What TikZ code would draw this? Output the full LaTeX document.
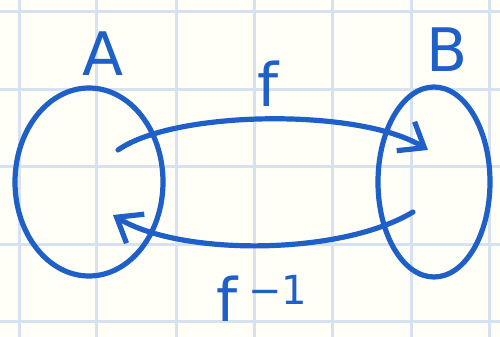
\documentclass[tikz,border=0pt]{standalone}
\usepackage{fontspec}
\setmainfont{DejaVu Sans}
\usetikzlibrary{arrows.meta}
\definecolor{ink}{RGB}{30,95,200}
\definecolor{gridc}{RGB}{214,225,242}
\tikzset{
  pen/.style={draw=ink, line width=2.6pt, line cap=round},
  conn/.style={pen, -{Straight Barb[length=11pt,width=17pt,line width=2.6pt]}},
  setlabel/.style={text=ink, font=\fontsize{30}{32}\selectfont, inner sep=0pt},
  gridline/.style={draw=gridc, line width=1.5pt}
}
\begin{document}
\begin{tikzpicture}[x=0.5pt,y=-0.5pt]
\useasboundingbox (0,0) rectangle (500,337);
\fill[white!97!yellow] (0,0) rectangle (500,337);
% grid
\foreach \gx in {20,97,177,255,333,412,490} \draw[gridline] (\gx,0) -- (\gx,337);
\foreach \gy in {12,90,167,245,322} \draw[gridline] (0,\gy) -- (500,\gy);
% sets
\draw[pen] (89,182) ellipse [x radius=74, y radius=94];
\draw[pen] (434,182) ellipse [x radius=56, y radius=95];
\node[setlabel] (lA) at (103,54) {A};
\node[setlabel] (lB) at (447,50) {B};
% arrow endpoints
\coordinate (fs) at (118,150);
\coordinate (fe) at (428,150);
\coordinate (gs) at (413,212);
\coordinate (ge) at (113,215);
\draw[conn] (fs) .. controls (175,110) and (360,108) .. (fe);
\draw[conn] (gs) .. controls (340,256) and (180,256) .. (ge);
\node[setlabel] (lf) at (268,84) {f};
\node[setlabel, anchor=base] (lg) at (262,322) {f\,\raisebox{9pt}{\fontsize{20}{22}\selectfont −1}};
\end{tikzpicture}
\end{document}
